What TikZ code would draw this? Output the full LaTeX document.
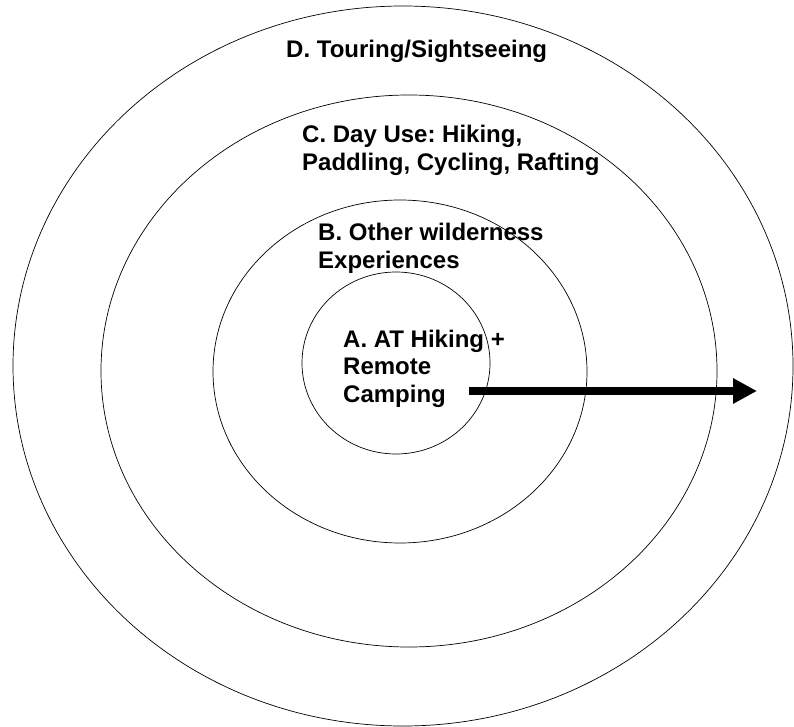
\documentclass[tikz,border=0pt]{standalone}
\usepackage{fontspec}
\setmainfont{Liberation Sans}
\newfontfamily\zonefont{Liberation Sans Bold}
\frenchspacing
\usetikzlibrary{arrows.meta}

\begin{document}
\begin{tikzpicture}[x=1pt, y=-1pt,
	ring/.style={draw=black, line width=0.7pt},
	zonelabel/.style={anchor=north west, inner sep=0pt, align=left,
		font=\zonefont\fontsize{24}{27.5}\selectfont}]
	
		\useasboundingbox (0,0) rectangle (794,727);
		
		% rings, outer to inner
		\draw[ring] (403,366) ellipse [x radius=390, y radius=360];
		\draw[ring] (409,371) ellipse [x radius=308, y radius=276];
		\draw[ring] (400,371.5) ellipse [x radius=187, y radius=171.5];
		\draw[ring] (396,363) ellipse [x radius=94, y radius=91];
	
		\node[zonelabel] (zoneD) at (286,40) {D. Touring/Sightseeing};
		\node[zonelabel] (zoneC) at (302,125) {C. Day Use: Hiking,\\Paddling, Cycling, Rafting};
		\node[zonelabel] (zoneB) at (318,223) {B. Other wilderness\\Experiences};
		\node[zonelabel] (zoneA) at (343,329.5) {A. AT Hiking +\\Remote\\Camping};
	
		\coordinate (tail) at (469,391);
		\coordinate (head) at (757,391);
		\draw[line width=7.5pt, -{Triangle[length=24pt, width=24pt]}] (tail) -- (head);
		
	\end{tikzpicture}
\end{document}
